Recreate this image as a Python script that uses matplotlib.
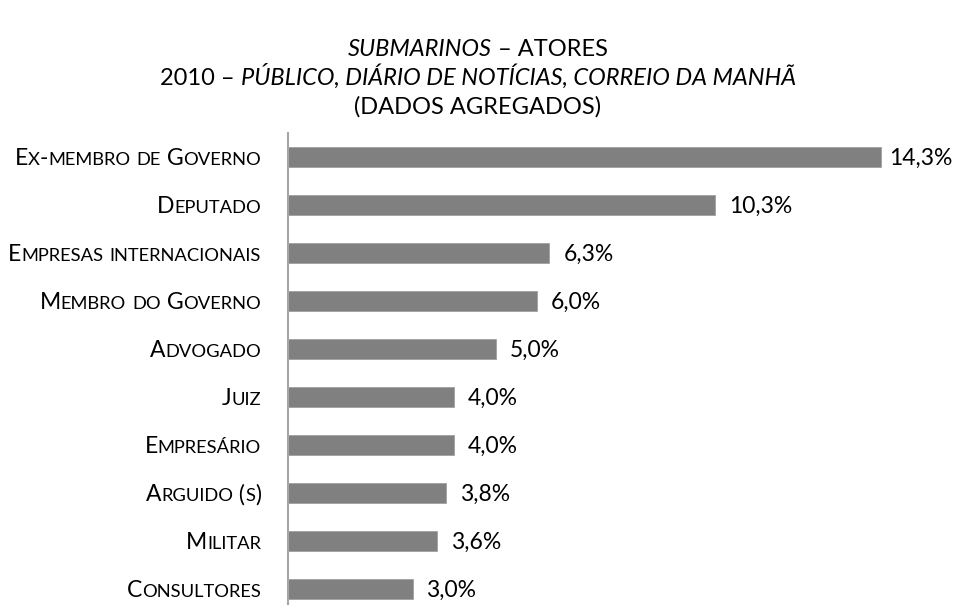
import matplotlib
matplotlib.use('Agg')
import matplotlib.pyplot as plt
from matplotlib.transforms import IdentityTransform

# dados
categorias = ['Ex-membro de Governo', 'Deputado', 'Empresas internacionais',
              'Membro do Governo', 'Advogado', 'Juiz', 'Empresário',
              'Arguido (s)', 'Militar', 'Consultores']
percentagens = [14.3, 10.3, 6.3, 6.0, 5.0, 4.0, 4.0, 3.8, 3.6, 3.0]

titulo = [
    [('SUBMARINOS', 'italic'), (' – ATORES', 'normal')],
    [('2010 – ', 'normal'), ('PÚBLICO, DIÁRIO DE NOTÍCIAS, CORREIO DA MANHÃ', 'italic')],
    [('(DADOS AGREGADOS)', 'normal')],
]

FONTE = 'Lato'
W, H, DPI = 956, 605, 100
fig = plt.figure(figsize=(W / DPI, H / DPI), dpi=DPI)
renderer = fig.canvas.get_renderer()

# eixo: linha em x=288 px, 48 px por categoria, a partir de y=133 px
px_por_pct = 41.5
xmax = 16
ax = fig.add_axes([288 / W, (H - 613) / H, xmax * px_por_pct / W, 480 / H])
ax.barh(range(len(categorias)), percentagens, height=0.4, color='#808080',
        edgecolor='#a0a0a0', linewidth=0.6)
ax.set_xlim(0, xmax)
ax.set_ylim(len(categorias) - 0.5, -0.5)
for s in ['top', 'right', 'bottom']:
    ax.spines[s].set_visible(False)
ax.spines['left'].set_color('#a6a6a6')
ax.spines['left'].set_linewidth(1.5)
ax.set_xticks([])
ax.set_yticks([])


def largura(txt, size, style):
    t = fig.text(0, 0, txt + '|', fontsize=size, style=style, family=FONTE)
    r = fig.text(0, 0, '|', fontsize=size, style=style, family=FONTE)
    w = t.get_window_extent(renderer).width - r.get_window_extent(renderer).width
    t.remove()
    r.remove()
    return w


def desenhar(runs, x, y, ha):
    # runs: (texto, tamanho, estilo); x, y em pixeis (y = linha de base, de baixo)
    ws = [largura(t, s, st) for t, s, st in runs]
    total = sum(ws)
    x0 = x - total if ha == 'right' else x - total / 2
    for (t, s, st), w in zip(runs, ws):
        fig.text(x0, y, t, fontsize=s, style=st, family=FONTE, color='#000000',
                 va='baseline', ha='left', transform=IdentityTransform())
        x0 += w


def versaletes(s, size, ratio=0.8):
    out = []
    for ch in s:
        small = ch.islower()
        c = ch.upper() if small else ch
        if out and out[-1][1] == small:
            out[-1][0] += c
        else:
            out.append([c, small])
    return [(t, size * ratio if sm else size, 'normal') for t, sm in out]


# rotulos das categorias
tam_cat = 16.5
cap = tam_cat * DPI / 72 * 0.72
for i, c in enumerate(categorias):
    yc = ax.transData.transform((0, i))[1]
    desenhar(versaletes(c, tam_cat), 261, yc - cap / 2, 'right')

# valores
tam_val = 16.5
cap_v = tam_val * DPI / 72 * 0.72
for i, v in enumerate(percentagens):
    xd, yc = ax.transData.transform((v, i))
    txt = f'{v:.1f}%'.replace('.', ',')
    x = min(xd + 14, 952 - largura(txt, tam_val, 'normal'))
    fig.text(x, yc - cap_v / 2, txt, fontsize=tam_val, family=FONTE,
             va='baseline', ha='left', transform=IdentityTransform())

# titulo
tam_tit = 17
for k, linha in enumerate(titulo):
    y = H - (56 + 29 * k)
    desenhar([(t, tam_tit, st) for t, st in linha], W / 2, y, 'center')

fig.savefig('out.png', dpi=DPI)
